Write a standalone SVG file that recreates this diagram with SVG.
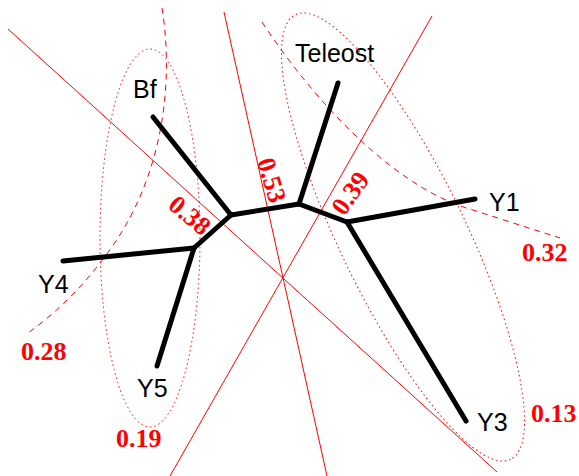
<svg xmlns="http://www.w3.org/2000/svg" width="579" height="476" viewBox="0 0 579 476">
<style>
.br{stroke:#000;stroke-width:5;stroke-linecap:round;fill:none}
.lab{font-family:"Liberation Sans",Arial,sans-serif;font-size:25px;fill:#000}
.num{font-family:"Liberation Serif","Times New Roman",serif;font-size:26px;font-weight:bold;fill:#f00}
.split{stroke:#f00;stroke-width:1;fill:none}
.dash{stroke:#f00;stroke-width:1;fill:none;stroke-dasharray:6,5}
.dot{stroke:#f00;stroke-width:1;fill:none;stroke-dasharray:1.5,3}
</style>
<rect width="579" height="476" fill="#fff"/>
<g id="splits">
<line class="split" x1="8" y1="29" x2="497" y2="472"/>
<line class="split" x1="224" y1="12" x2="327" y2="476"/>
<line class="split" x1="432" y1="16" x2="170" y2="476"/>
<path class="dash" d="M162,8 C172,70 168,160 118,238 C90,280 60,310 28,333"/>
<path class="dash" d="M262,22 C320,110 400,190 473,210 C510,222 535,230 560,238"/>
<ellipse class="dot" cx="150" cy="238" rx="50" ry="189"/>
<ellipse class="dot" cx="403" cy="237" rx="247" ry="63" transform="rotate(64.2 403 237)"/>
</g>
<g id="connectors">
<line class="br" x1="231" y1="215" x2="153" y2="117"/>
<line class="br" x1="231" y1="215" x2="299" y2="204"/>
<line class="br" x1="299" y1="204" x2="338" y2="83"/>
<line class="br" x1="299" y1="204" x2="347" y2="222"/>
<line class="br" x1="347" y1="222" x2="475" y2="199"/>
<line class="br" x1="347" y1="222" x2="466" y2="421"/>
<line class="br" x1="231" y1="215" x2="194" y2="248"/>
<line class="br" x1="194" y1="248" x2="63" y2="261"/>
<line class="br" x1="194" y1="248" x2="157" y2="366"/>
</g>
<g id="Bf"><text class="lab" x="133" y="98">Bf</text></g>
<g id="Teleost"><text class="lab" x="295" y="62">Teleost</text></g>
<g id="Y1"><text class="lab" x="489" y="211">Y1</text></g>
<g id="Y4"><text class="lab" x="38" y="293">Y4</text></g>
<g id="Y5"><text class="lab" x="137" y="397">Y5</text></g>
<g id="Y3"><text class="lab" x="477" y="431">Y3</text></g>
<g id="values">
<text class="num" x="21" y="360">0.28</text>
<text class="num" x="116" y="447">0.19</text>
<text class="num" x="522" y="261">0.32</text>
<text class="num" x="531" y="422">0.13</text>
<text class="num" text-anchor="middle" x="0" y="9" transform="translate(190 215) rotate(40)">0.38</text>
<text class="num" text-anchor="middle" x="0" y="9" transform="translate(272 180) rotate(73)">0.53</text>
<text class="num" text-anchor="middle" x="0" y="9" transform="translate(350 193) rotate(-55)">0.39</text>
</g>
</svg>
